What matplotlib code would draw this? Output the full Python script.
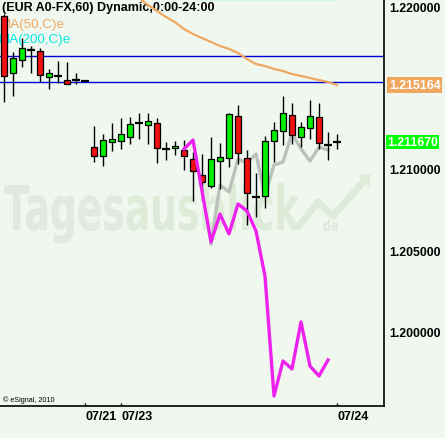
import matplotlib
matplotlib.use("Agg")
import matplotlib.pyplot as plt
from matplotlib.patches import Rectangle, PathPatch
from matplotlib.textpath import TextPath
from matplotlib.font_manager import FontProperties
from matplotlib.transforms import Affine2D, blended_transform_factory

plt.rcParams['font.family'] = ['Liberation Sans', 'DejaVu Sans']

# hourly EUR candles
opens = [1.21940, 1.21590, 1.21670, 1.21731, 1.21725, 1.21565, 1.21572, 1.21547,
         1.21546, 1.21541, 1.21135, 1.21080, 1.21166, 1.21172, 1.21197, 1.21283,
         1.21270, 1.21283, 1.21123, 1.21129, 1.21117, 1.21061, 1.20963, 1.20896,
         1.21049, 1.21068, 1.21326, 1.21068, 1.20828, 1.20834, 1.21172, 1.21234,
         1.21332, 1.21197, 1.21252, 1.21320, 1.21148, 1.21167]
highs = [1.21953, 1.21719, 1.21805, 1.21756, 1.21744, 1.21615, 1.21664, 1.21658,
         1.21590, 1.21541, 1.21264, 1.21215, 1.21283, 1.21313, 1.21320, 1.21344,
         1.21344, 1.21313, 1.21166, 1.21172, 1.21178, 1.21104, 1.21092, 1.21197,
         1.21160, 1.21344, 1.21393, 1.21117, 1.20975, 1.21203, 1.21289, 1.21449,
         1.21406, 1.21289, 1.21424, 1.21406, 1.21227, 1.21215]
lows = [1.21412, 1.21449, 1.21627, 1.21590, 1.21535, 1.21492, 1.21529, 1.21520,
        1.21522, 1.21541, 1.21043, 1.21018, 1.21111, 1.21123, 1.21154, 1.21184,
        1.21154, 1.21037, 1.21055, 1.21086, 1.20994, 1.20803, 1.20803, 1.20883,
        1.20877, 1.21012, 1.21031, 1.20656, 1.20705, 1.20760, 1.21043, 1.21148,
        1.21154, 1.21135, 1.21184, 1.21123, 1.21055, 1.21123]
closes = [1.21572, 1.21682, 1.21744, 1.21731, 1.21578, 1.21590, 1.21572, 1.21522,
          1.21546, 1.21541, 1.21080, 1.21178, 1.21184, 1.21215, 1.21277, 1.21283,
          1.21295, 1.21129, 1.21123, 1.21141, 1.21080, 1.20988, 1.20920, 1.21061,
          1.21074, 1.21338, 1.21098, 1.20852, 1.20828, 1.21172, 1.21240, 1.21344,
          1.21209, 1.21258, 1.21326, 1.21160, 1.21148, 1.21167]

# overlay series
mag_idx = [20, 21, 23, 24, 25, 26, 27, 28, 29, 30, 31, 32, 33, 34, 35, 36]
mag_val = [1.21123, 1.21178, 1.20551, 1.20723, 1.20601, 1.20785, 1.20742, 1.20619,
           1.20342, 1.19605, 1.19820, 1.19771, 1.20060, 1.19789, 1.19728, 1.19826]
gray_idx = [23, 24, 25, 26, 27, 28, 29, 30, 31, 32, 33, 34, 35, 36]
gray_val = [1.20539, 1.20902, 1.20859, 1.21061, 1.21037, 1.21092, 1.20834, 1.21025,
            1.21043, 1.21221, 1.21123, 1.21049, 1.21135, 1.21117]
ma50_idx = list(range(15, 38))
ma50_val = [1.22051, 1.22008, 1.21971, 1.21934, 1.21903, 1.21860, 1.21830, 1.21805,
            1.21781, 1.21756, 1.21738, 1.21713, 1.21676, 1.21645, 1.21633, 1.21615,
            1.21602, 1.21584, 1.21572, 1.21559, 1.21547, 1.21535, 1.215164]
ma200_idx = [22, 37]
ma200_val = [1.22043, 1.22043]
hlines_val = [1.21694, 1.21535]

ytick_vals = [1.22, 1.21, 1.205, 1.20]
xtick_idx = [9, 13, 37]
xtick_lab = ["07/21", "07/23", "07/24"]
last_ma50 = 1.215164
last_close = 1.21167

W, H, DPI = 445, 439, 100
BG = "#eff7ef"
fig = plt.figure(figsize=(W / DPI, H / DPI), dpi=DPI, facecolor=BG)
ax = fig.add_axes([0, 1 - 407 / H, 384 / W, 407 / H])
ax.set_facecolor(BG)
pix = Affine2D().scale(1 / DPI) + fig.dpi_scale_trans

# watermark
fp = FontProperties(family="DejaVu Sans", weight="bold")
full = TextPath((0, 0), "Tagesausblick", size=1, prop=fp)
first = TextPath((0, 0), "Tages", size=1, prop=fp)
ext = full.get_extents()
sx = (300 - 4) / ext.width
sy = 45 / 0.73
wm = Affine2D().translate(-ext.x0, 0).scale(sx, sy).translate(4, H - 231) + pix
ax.add_patch(PathPatch(full, transform=wm, fc="#ddebd8", ec="none", zorder=0.5))
ax.add_patch(PathPatch(first, transform=wm, fc="#e2e8e2", ec="none", zorder=0.6))
de = TextPath((0, 0), "de", size=1, prop=fp)
dt = Affine2D().scale(11, 16).translate(323, H - 232) + pix
ax.add_patch(PathPatch(de, transform=dt, fc="#dee7dd", ec="none", zorder=0.5))
arrow_x = [298, 318, 333, 364]
arrow_y = [228, 203, 217, 182]
ax.plot(arrow_x, [H - v for v in arrow_y], color="#ddebd8", lw=5,
        transform=pix, zorder=0.5, solid_capstyle="round")
ax.annotate("", xy=(372, H - 173), xytext=(360, H - 186), xycoords=pix,
            arrowprops=dict(arrowstyle="-|>,head_width=0.6,head_length=0.7",
                            color="#ddebd8", lw=0), zorder=0.5)

# texts top left
ax.text(2, H - 8, "(EUR A0-FX,60) Dynamic,0:00-24:00", transform=pix,
        fontsize=9, fontweight="bold", va="center", ha="left", zorder=1)
ax.text(0, H - 25, "MA(50,C)e", transform=pix, fontsize=9.6, color="#f0a860",
        va="center", ha="left", zorder=1)
ax.text(-1, H - 40.5, "MA(200,C)e", transform=pix, fontsize=9.6, color="#00e8e8",
        va="center", ha="left", zorder=1)
ax.text(3, H - 400, "\u00a9 eSignal, 2010", transform=pix, fontsize=5.2,
        va="center", ha="left", zorder=1)

for v in hlines_val:
    ax.axhline(v, color="#0000dd", lw=1, zorder=2)

ax.plot(ma200_idx, ma200_val, color="#00f0f0", lw=1.6, zorder=2)
ax.plot(ma50_idx, ma50_val, color="#f0a860", lw=1.6, zorder=2)
ax.plot(gray_idx, gray_val, color="#bcc0bc", lw=2.4, zorder=2)

# candles
bw = 0.7
for i in range(len(opens)):
    o, h, l, c = opens[i], highs[i], lows[i], closes[i]
    if h > l:
        ax.vlines(i, l, h, color="black", lw=1.0, zorder=3)
    if abs(c - o) < 1e-6:
        ax.hlines(o, i - 0.42, i + 0.42, color="black", lw=1.6, zorder=4)
    else:
        col = "#00ee00" if c > o else "#ee1111"
        ax.add_patch(Rectangle((i - bw / 2, min(o, c)), bw, abs(c - o),
                               fc=col, ec="black", lw=0.9, zorder=4))

ax.plot(mag_idx, mag_val, color="#ee22ee", lw=2.4, zorder=5)

ax.set_xlim(-4 / 9, (384 - 4) / 9)
ax.set_ylim(1.21 - 237 / 16270, 1.21 + 170 / 16270)

for s in ["left", "top"]:
    ax.spines[s].set_visible(False)
ax.spines["right"].set_linewidth(1.2)
ax.spines["bottom"].set_linewidth(1.2)

ax.yaxis.tick_right()
ax.set_yticks(ytick_vals)
ax.set_yticklabels([f"{v:.6f}" for v in ytick_vals])
ax.tick_params(axis="y", length=0, pad=4, labelsize=8.8)
ax.set_xticks(xtick_idx)
ax.set_xticklabels(xtick_lab)
ax.tick_params(axis="x", direction="in", length=2, width=1, pad=3, labelsize=9)
for lab in ax.get_xticklabels():
    lab.set_fontweight("bold")
    lab.set_horizontalalignment("left")
for lab in ax.get_yticklabels():
    lab.set_fontweight("bold")

bt = blended_transform_factory(ax.transAxes, ax.transData)
ax.text(1 + 5 / 384, last_ma50, f"{last_ma50:.6f}", transform=bt, fontsize=8.8,
        fontweight="bold", color="white", va="center", ha="left", clip_on=False,
        bbox=dict(boxstyle="square,pad=0.15", fc="#f0a860", ec="none"))
ax.text(1 + 3 / 384, last_close, f"{last_close:.6f}", transform=bt, fontsize=8.8,
        fontweight="bold", color="white", va="center", ha="left", clip_on=False,
        bbox=dict(boxstyle="square,pad=0.1", fc="#00ff00", ec="none"))

fig.savefig("out.png", dpi=DPI, facecolor=BG)
